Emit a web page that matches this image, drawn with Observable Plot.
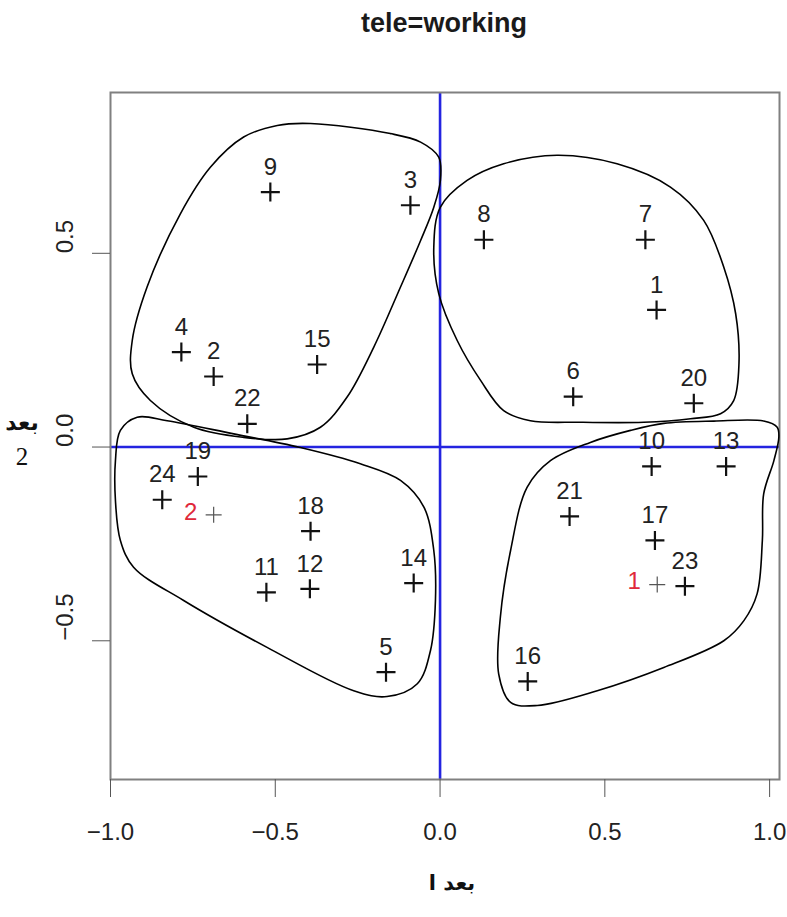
<!DOCTYPE html>
<html>
<head>
<meta charset="utf-8">
<script src="https://cdn.jsdelivr.net/npm/d3@7"></script>
<script src="https://cdn.jsdelivr.net/npm/@observablehq/plot@0.6"></script>
<style>
  html, body { margin: 0; padding: 0; background: #fff; }
</style>
</head>
<body>
<div id="chart"></div>
<script>
// ---- data ----
const pointIds = ["1","2","3","4","5","6","7","8","9","10","11","12","13","14","15","16","17","18","19","20","21","22","23","24"];
const pointX = [0.657,-0.687,-0.090,-0.785,-0.164,0.404,0.623,0.133,-0.515,0.642,-0.527,-0.395,0.868,-0.080,-0.373,0.266,0.652,-0.393,-0.735,0.770,0.393,-0.585,0.743,-0.843];
const pointY = [0.354,0.182,0.624,0.245,-0.581,0.130,0.535,0.535,0.658,-0.050,-0.375,-0.366,-0.050,-0.351,0.213,-0.605,-0.241,-0.217,-0.076,0.113,-0.179,0.060,-0.359,-0.136];

const suppIds = ["1","2"];
const suppX = [0.659,-0.687];
const suppY = [-0.355,-0.175];

const xTicks = [-1.0,-0.5,0.0,0.5,1.0];
const yTicks = [-0.5,0.0,0.5];

const titleText = "tele=working";
const xLabelText = "بعد ا";
const yLabelText1 = "بعد";
const yLabelText2 = "2";

// hand-drawn cluster outlines (data units)
const blob1 = [[-0.393,0.835],[-0.151,0.809],[-0.059,0.787],[-0.004,0.748],[0.001,0.688],[-0.019,0.619],[-0.059,0.533],[-0.120,0.413],[-0.201,0.258],[-0.282,0.129],[-0.363,0.051],[-0.464,0.021],[-0.596,0.025],[-0.747,0.051],[-0.879,0.120],[-0.934,0.189],[-0.934,0.275],[-0.889,0.413],[-0.788,0.602],[-0.697,0.722],[-0.596,0.800],[-0.494,0.830]];
const blob2 = [[0.355,0.753],[0.537,0.731],[0.699,0.671],[0.800,0.585],[0.861,0.464],[0.897,0.344],[0.907,0.215],[0.891,0.120],[0.851,0.086],[0.760,0.073],[0.618,0.064],[0.426,0.064],[0.274,0.068],[0.193,0.094],[0.123,0.172],[0.052,0.275],[-0.004,0.396],[-0.019,0.516],[0.001,0.619],[0.082,0.688],[0.193,0.731]];
const blob3 = [[-0.919,0.077],[-0.828,0.068],[-0.626,0.034],[-0.424,-0.001],[-0.242,-0.043],[-0.120,-0.086],[-0.049,-0.155],[-0.019,-0.267],[-0.014,-0.396],[-0.029,-0.525],[-0.069,-0.611],[-0.161,-0.644],[-0.262,-0.629],[-0.525,-0.517],[-0.778,-0.396],[-0.930,-0.310],[-0.970,-0.241],[-0.985,-0.138],[-0.985,-0.035],[-0.970,0.043]];
const blob4 = [[1.023,0.051],[1.028,0.025],[1.013,-0.035],[0.982,-0.121],[0.978,-0.241],[0.962,-0.379],[0.922,-0.448],[0.861,-0.500],[0.679,-0.569],[0.477,-0.629],[0.295,-0.667],[0.214,-0.659],[0.178,-0.586],[0.183,-0.439],[0.214,-0.267],[0.264,-0.104],[0.335,-0.035],[0.456,0.012],[0.578,0.043],[0.679,0.061],[0.831,0.067],[0.982,0.067]];

// ---- tables built from arrays ----
const points = pointIds.map((id, i) => ({id, x: pointX[i], y: pointY[i]}));
const supp = suppIds.map((id, i) => ({id, x: suppX[i], y: suppY[i]}));
const blobs = [blob1, blob2, blob3, blob4].flatMap((b, k) => b.map(([x, y]) => ({x, y, g: k})));

const plusSym = {
  draw(ctx, size) {
    const r = Math.sqrt(size / Math.PI);
    ctx.moveTo(-r, 0); ctx.lineTo(r, 0);
    ctx.moveTo(0, -r); ctx.lineTo(0, r);
  }
};
const fmt = d3.format(".1f");
const FONT = "Liberation Sans, Arial, Helvetica, sans-serif";

const plot = Plot.plot({
  width: 787,
  height: 917,
  marginLeft: 110,
  marginRight: 8,
  marginTop: 92,
  marginBottom: 138,
  style: {fontFamily: FONT, background: "#fff", color: "#222"},
  x: {domain: [-1.0, 1.03], label: null},
  y: {domain: [-0.858, 0.915], label: null},
  marks: [
    Plot.ruleX([0], {stroke: "#2424e0", strokeWidth: 2.6}),
    Plot.ruleY([0], {stroke: "#2424e0", strokeWidth: 2.6}),
    Plot.frame({stroke: "#808080", strokeWidth: 2}),
    Plot.axisX({ticks: xTicks, tickSize: 18, tickPadding: 25, tickFormat: fmt, fontSize: 24, stroke: "#555", fill: "#222", label: null}),
    Plot.axisY({ticks: yTicks, tickSize: 18, tickFormat: () => "", stroke: "#555", label: null}),
    Plot.text(yTicks, {y: d => d, text: d => fmt(d), frameAnchor: "left", dx: -45, rotate: -90, fontSize: 24, fill: "#222"}),
    Plot.dot(points, {x: "x", y: "y", symbol: plusSym, r: 9.5, stroke: "#111", strokeWidth: 2.2, fill: "none"}),
    Plot.text(points, {x: "x", y: "y", text: "id", dy: -25, fontSize: 24, fill: "#222"}),
    Plot.dot(supp, {x: "x", y: "y", symbol: plusSym, r: 8, stroke: "#555", strokeWidth: 1.2, fill: "none"}),
    Plot.text(supp, {x: "x", y: "y", text: "id", dx: -23, dy: -3, fontSize: 24, fill: "#e0283a"}),
    Plot.line(blobs, {x: "x", y: "y", z: "g", curve: "catmull-rom-closed", stroke: "#000", strokeWidth: 1.6, fill: "none", clip: false})
  ]
});

const svg = d3.select(plot);
svg.append("text")
  .attr("x", 444).attr("y", 25)
  .attr("text-anchor", "middle").attr("dominant-baseline", "middle")
  .attr("font-family", FONT).attr("font-weight", "bold").attr("font-size", 27)
  .attr("fill", "#1a1a1a")
  .text(titleText);
svg.append("text")
  .attr("x", 452).attr("y", 890)
  .attr("text-anchor", "middle")
  .attr("font-family", "DejaVu Sans, sans-serif").attr("font-weight", "bold").attr("font-size", 21)
  .attr("fill", "#111")
  .text(xLabelText);
svg.append("text")
  .attr("x", 22).attr("y", 430)
  .attr("text-anchor", "middle")
  .attr("font-family", "DejaVu Sans, sans-serif").attr("font-weight", "bold").attr("font-size", 22)
  .attr("fill", "#111")
  .text(yLabelText1);
svg.append("text")
  .attr("x", 22).attr("y", 465)
  .attr("text-anchor", "middle")
  .attr("font-family", "Liberation Serif, serif").attr("font-size", 25)
  .attr("fill", "#111")
  .text(yLabelText2);

document.getElementById("chart").appendChild(plot);
</script>
</body>
</html>
